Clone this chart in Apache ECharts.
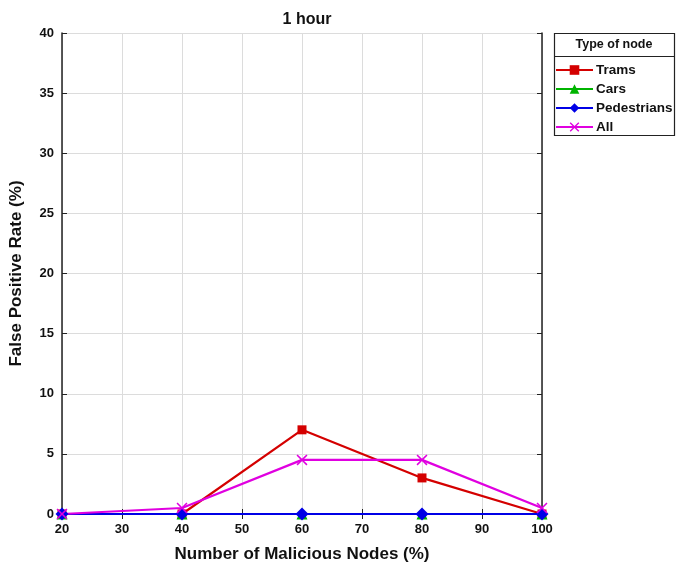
<!DOCTYPE html>
<html><head><meta charset="utf-8">
<script src="https://cdn.jsdelivr.net/npm/echarts@6/dist/echarts.min.js"></script>
<style>html,body{margin:0;padding:0;background:#fff}#c{width:677px;height:568px}</style>
</head><body><div id="c"></div>
<script>
const xValues = [20, 40, 60, 80, 100];
const trams = [0, 0, 7, 3, 0];
const cars = [0, 0, 0, 0, 0];
const pedestrians = [0, 0, 0, 0, 0];
const all = [0, 0.5, 4.5, 4.5, 0.5];
const seriesNames = ['Trams', 'Cars', 'Pedestrians', 'All'];

const F = 'Liberation Sans, Arial, sans-serif';
const xShape = 'path://M0,1L1,0L5,4L9,0L10,1L6,5L10,9L9,10L5,6L1,10L0,9L4,5Z';
function pts(v){ return xValues.map((x,i)=>[x, v[i]]); }
function mk(name, data, color, symbol, size){
  return {name, type:'line', data:pts(data), symbol, symbolSize:size, clip:false,
    lineStyle:{color, width:2.2}, itemStyle:{color}, emphasis:{disabled:true}};
}
const chart = echarts.init(document.getElementById('c'));
const tickCommon = {show:true, inside:true, length:5, lineStyle:{color:'#222', width:1}};
chart.setOption({
  animation:false,
  title:{text:'1 hour', left:302, top:7, textAlign:'center',
    textStyle:{fontFamily:F, fontWeight:'bold', fontSize:16, color:'#111'}},
  grid:{left:62, right:135, top:33, bottom:54, containLabel:false, outerBoundsMode:'none'},
  xAxis:[{type:'value', min:20, max:100, interval:10,
    name:'Number of Malicious Nodes (%)', nameLocation:'middle', nameGap:32,
    nameTextStyle:{fontFamily:F, fontWeight:'bold', fontSize:17, color:'#111'},
    axisLine:{lineStyle:{color:'#222', width:1.5}}, axisTick:tickCommon,
    axisLabel:{fontFamily:F, fontWeight:'bold', fontSize:13, color:'#111', margin:9},
    splitLine:{show:true, lineStyle:{color:'#dcdcdc', width:1}}},
   {type:'value', position:'top', min:20, max:100, interval:10,
    axisLine:{show:true, lineStyle:{color:'#222', width:1.5}}, axisTick:tickCommon,
    axisLabel:{show:false}, splitLine:{show:false}}],
  yAxis:[{type:'value', min:0, max:40, interval:5,
    name:'False Positive Rate (%)', nameLocation:'middle', nameGap:37,
    nameTextStyle:{fontFamily:F, fontWeight:'bold', fontSize:17, color:'#111'},
    axisLine:{show:true, lineStyle:{color:'#222', width:1.5}}, axisTick:tickCommon,
    axisLabel:{fontFamily:F, fontWeight:'bold', fontSize:13, color:'#111', margin:8},
    splitLine:{show:true, lineStyle:{color:'#dcdcdc', width:1}}},
   {type:'value', position:'right', min:0, max:40, interval:5,
    axisLine:{show:true, lineStyle:{color:'#222', width:1.5}}, axisTick:tickCommon,
    axisLabel:{show:false}, splitLine:{show:false}}],
  legend:{orient:'vertical', left:550, top:58, itemGap:5, itemWidth:37, itemHeight:12,
    data:seriesNames, selectedMode:false,
    textStyle:{fontFamily:F, fontWeight:'bold', fontSize:13.5, color:'#111', padding:[0,0,0,-2]}},
  graphic:[
    {type:'rect', shape:{x:554.5, y:33.5, width:120, height:102}, style:{fill:'none', stroke:'#222', lineWidth:1.2}, silent:true},
    {type:'line', shape:{x1:554.5, y1:56.5, x2:674.5, y2:56.5}, style:{stroke:'#222', lineWidth:1}, silent:true},
    {type:'text', x:614, y:45, style:{text:'Type of node', fontFamily:F, fontWeight:'bold', fontSize:12.5, fill:'#111', textAlign:'center', textVerticalAlign:'middle'}, silent:true}
  ],
  series:[
    mk('Trams', trams, '#d40000', 'rect', 9),
    mk('Cars', cars, '#00b400', 'triangle', 11),
    mk('Pedestrians', pedestrians, '#0000e6', 'diamond', 13),
    mk('All', all, '#e000e0', xShape, 11)
  ]
});
</script></body></html>
